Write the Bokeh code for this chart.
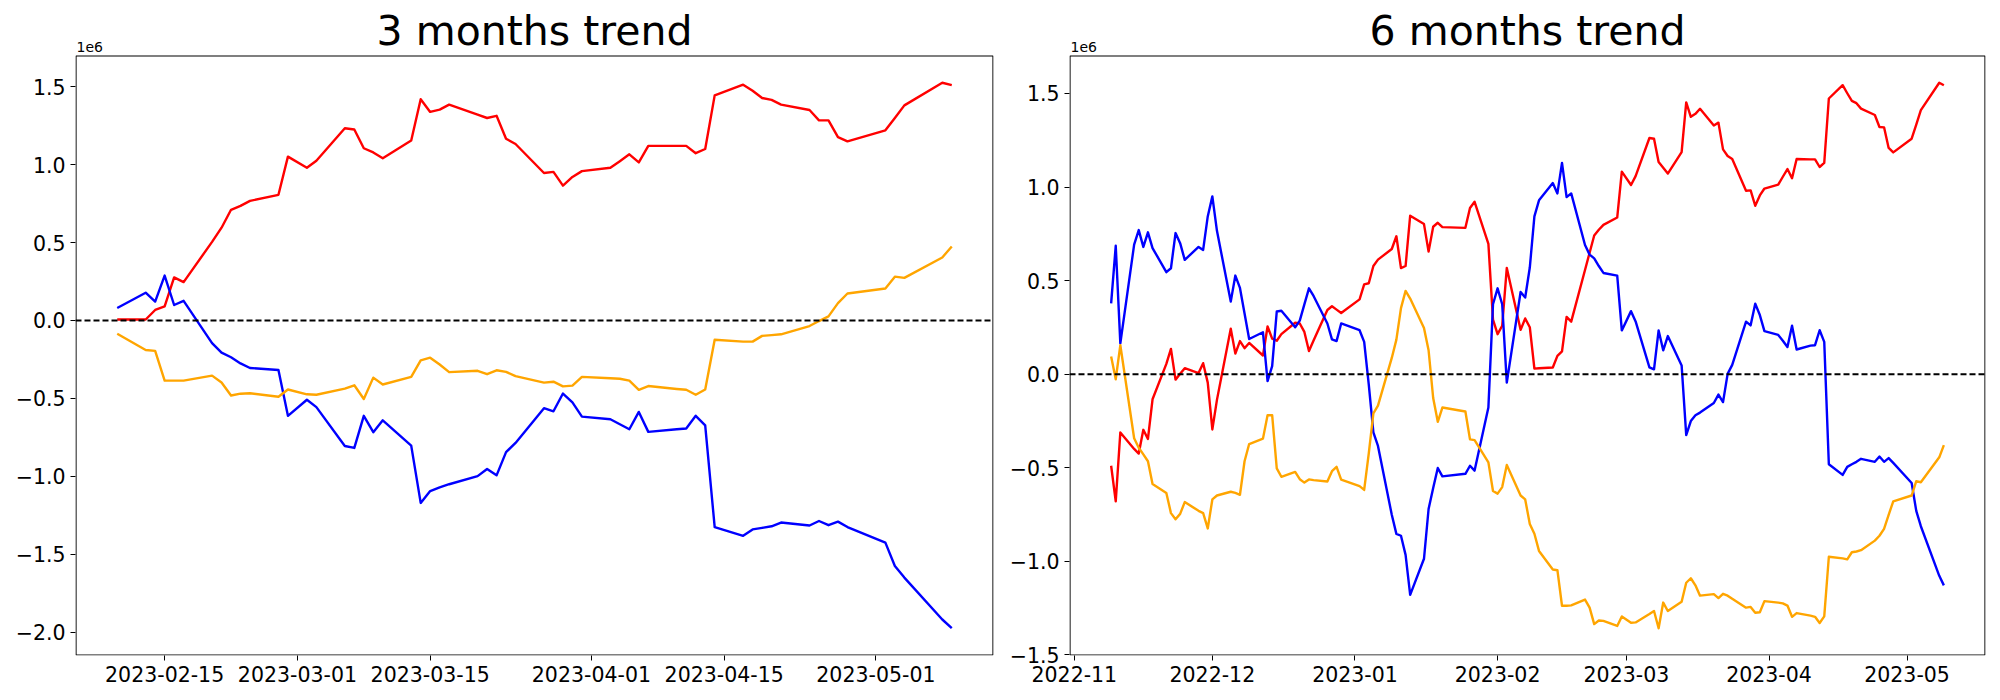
import pandas as pd
from bokeh.plotting import figure
from bokeh.layouts import row
from bokeh.models import Span, FixedTicker, CustomJSTickFormatter, Range1d, Label, BoxAnnotation
from bokeh.embed import file_html
from bokeh.resources import INLINE

# ---------------- data (values in millions, "1e6" offset) ----------------
dates_3m = [
    "2023-02-10", "2023-02-13", "2023-02-14", "2023-02-15", "2023-02-16", "2023-02-17",
    "2023-02-20", "2023-02-21", "2023-02-22", "2023-02-23", "2023-02-24", "2023-02-27", "2023-02-28",
    "2023-03-02", "2023-03-03", "2023-03-06", "2023-03-07", "2023-03-08", "2023-03-09", "2023-03-10",
    "2023-03-13", "2023-03-14", "2023-03-15", "2023-03-16", "2023-03-17", "2023-03-20", "2023-03-21",
    "2023-03-22", "2023-03-23", "2023-03-24", "2023-03-27", "2023-03-28", "2023-03-29", "2023-03-30",
    "2023-03-31", "2023-04-03", "2023-04-04", "2023-04-05", "2023-04-06", "2023-04-07", "2023-04-10",
    "2023-04-11", "2023-04-12", "2023-04-13", "2023-04-14", "2023-04-17", "2023-04-18", "2023-04-19",
    "2023-04-20", "2023-04-21", "2023-04-24", "2023-04-25", "2023-04-26", "2023-04-27", "2023-04-28",
    "2023-05-02", "2023-05-03", "2023-05-04", "2023-05-08", "2023-05-09",
]
red_3m = [
    0.006, 0.006, 0.067, 0.090, 0.276, 0.246,
    0.504, 0.595, 0.710, 0.735, 0.767, 0.806, 1.051,
    0.980, 1.025, 1.233, 1.225, 1.105, 1.078, 1.041,
    1.154, 1.419, 1.338, 1.353, 1.385, 1.320, 1.299,
    1.313, 1.166, 1.132, 0.946, 0.953, 0.865, 0.921,
    0.958, 0.980, 1.022, 1.066, 1.014, 1.120, 1.120,
    1.120, 1.073, 1.100, 1.444, 1.513, 1.474, 1.427,
    1.415, 1.385, 1.350, 1.284, 1.284, 1.176, 1.149,
    1.220, 1.299, 1.380, 1.525, 1.510,
]
blue_3m = [
    0.080, 0.178, 0.121, 0.288, 0.099, 0.126,
    -0.146, -0.207, -0.236, -0.276, -0.305, -0.318, -0.612,
    -0.509, -0.556, -0.806, -0.818, -0.612, -0.717, -0.641,
    -0.803, -1.171, -1.095, -1.071, -1.051, -0.999, -0.953,
    -0.994, -0.845, -0.786, -0.563, -0.583, -0.469, -0.526,
    -0.617, -0.634, -0.666, -0.698, -0.587, -0.715, -0.698,
    -0.693, -0.612, -0.673, -1.326, -1.382, -1.341, -1.331,
    -1.321, -1.297, -1.316, -1.287, -1.314, -1.291, -1.326,
    -1.426, -1.576, -1.650, -1.919, -1.975,
]
orange_3m = [
    -0.085, -0.190, -0.195, -0.386, -0.386, -0.386,
    -0.354, -0.398, -0.482, -0.470, -0.467, -0.490, -0.443,
    -0.474, -0.477, -0.438, -0.416, -0.504, -0.367, -0.411,
    -0.362, -0.256, -0.239, -0.283, -0.332, -0.323, -0.345,
    -0.320, -0.330, -0.357, -0.399, -0.393, -0.423, -0.418,
    -0.362, -0.371, -0.374, -0.386, -0.445, -0.421, -0.440,
    -0.445, -0.477, -0.443, -0.124, -0.136, -0.136, -0.099,
    -0.094, -0.089, -0.036, -0.004, 0.026, 0.111, 0.173,
    0.205, 0.281, 0.273, 0.404, 0.475,
]

dates_6m = [
    "2022-11-09", "2022-11-10", "2022-11-11", "2022-11-14", "2022-11-15", "2022-11-16", "2022-11-17",
    "2022-11-18", "2022-11-21", "2022-11-22", "2022-11-23", "2022-11-24", "2022-11-25", "2022-11-28",
    "2022-11-29", "2022-11-30",
    "2022-12-01", "2022-12-02", "2022-12-05", "2022-12-06", "2022-12-07", "2022-12-08", "2022-12-09",
    "2022-12-12", "2022-12-13", "2022-12-14", "2022-12-15", "2022-12-16", "2022-12-19", "2022-12-20",
    "2022-12-21", "2022-12-22", "2022-12-23", "2022-12-26", "2022-12-27", "2022-12-28", "2022-12-29",
    "2023-01-02", "2023-01-03", "2023-01-04", "2023-01-05", "2023-01-06", "2023-01-09", "2023-01-10",
    "2023-01-11", "2023-01-12", "2023-01-13", "2023-01-16", "2023-01-17", "2023-01-18", "2023-01-19",
    "2023-01-20", "2023-01-25", "2023-01-26", "2023-01-27", "2023-01-30", "2023-01-31",
    "2023-02-01", "2023-02-02", "2023-02-03", "2023-02-06", "2023-02-07", "2023-02-08", "2023-02-09",
    "2023-02-10", "2023-02-13", "2023-02-14", "2023-02-15", "2023-02-16", "2023-02-17", "2023-02-20",
    "2023-02-21", "2023-02-22", "2023-02-23", "2023-02-24", "2023-02-27", "2023-02-28",
    "2023-03-02", "2023-03-03", "2023-03-06", "2023-03-07", "2023-03-08", "2023-03-09", "2023-03-10",
    "2023-03-13", "2023-03-14", "2023-03-15", "2023-03-16", "2023-03-17", "2023-03-20", "2023-03-21",
    "2023-03-22", "2023-03-23", "2023-03-24", "2023-03-27", "2023-03-28", "2023-03-29", "2023-03-30",
    "2023-03-31",
    "2023-04-03", "2023-04-04", "2023-04-05", "2023-04-06", "2023-04-07", "2023-04-10", "2023-04-11",
    "2023-04-12", "2023-04-13", "2023-04-14", "2023-04-17", "2023-04-18", "2023-04-19", "2023-04-20",
    "2023-04-21", "2023-04-24", "2023-04-25", "2023-04-26", "2023-04-27", "2023-04-28",
    "2023-05-02", "2023-05-03", "2023-05-04", "2023-05-08", "2023-05-09",
]
red_6m = [
    -0.489, -0.679, -0.311, -0.399, -0.424, -0.297, -0.346,
    -0.134, 0.055, 0.135, -0.029, 0.002, 0.032, 0.006,
    0.059, -0.045,
    -0.295, -0.137, 0.243, 0.110, 0.177, 0.139, 0.167,
    0.100, 0.255, 0.190, 0.179, 0.214, 0.275, 0.271,
    0.226, 0.124, 0.180, 0.343, 0.363, 0.345, 0.327,
    0.400, 0.480, 0.486, 0.578, 0.612, 0.669, 0.737,
    0.567, 0.578, 0.847, 0.802, 0.655, 0.788, 0.809,
    0.786, 0.782, 0.888, 0.921, 0.696, 0.292,
    0.214, 0.259, 0.568, 0.237, 0.298, 0.251, 0.030,
    0.032, 0.036, 0.098, 0.122, 0.306, 0.281, 0.557,
    0.649, 0.741, 0.772, 0.798, 0.837, 1.082,
    1.011, 1.058, 1.262, 1.258, 1.134, 1.103, 1.072,
    1.187, 1.452, 1.375, 1.391, 1.418, 1.329, 1.344,
    1.201, 1.166, 1.150, 0.980, 0.982, 0.900, 0.955,
    0.992,
    1.013, 1.055, 1.096, 1.047, 1.150, 1.148, 1.148,
    1.107, 1.129, 1.473, 1.544, 1.501, 1.460, 1.448,
    1.419, 1.385, 1.321, 1.319, 1.209, 1.185,
    1.258, 1.334, 1.411, 1.557, 1.544,
]
blue_6m = [
    0.378, 0.686, 0.165, 0.692, 0.770, 0.680, 0.758,
    0.674, 0.545, 0.566, 0.754, 0.700, 0.611, 0.680,
    0.664, 0.843,
    0.950, 0.766, 0.388, 0.527, 0.461, 0.324, 0.188,
    0.224, -0.037, 0.043, 0.335, 0.339, 0.251, 0.286,
    0.373, 0.459, 0.418, 0.271, 0.186, 0.177, 0.271,
    0.235, 0.173, -0.056, -0.311, -0.383, -0.751, -0.853,
    -0.863, -0.965, -1.179, -0.986, -0.720, -0.608, -0.501,
    -0.546, -0.532, -0.489, -0.515, -0.178, 0.374,
    0.459, 0.374, -0.045, 0.439, 0.410, 0.570, 0.843,
    0.929, 1.021, 0.966, 1.129, 0.946, 0.966, 0.690,
    0.639, 0.619, 0.578, 0.541, 0.527, 0.234,
    0.337, 0.282, 0.037, 0.026, 0.234, 0.128, 0.204,
    0.047, -0.325, -0.250, -0.219, -0.205, -0.154, -0.109,
    -0.149, 0.002, 0.050, 0.281, 0.261, 0.377, 0.316,
    0.230,
    0.210, 0.179, 0.145, 0.259, 0.132, 0.153, 0.155,
    0.235, 0.173, -0.481, -0.538, -0.495, -0.481, -0.468,
    -0.452, -0.468, -0.440, -0.468, -0.448, -0.474,
    -0.581, -0.730, -0.812, -1.077, -1.128,
]
orange_6m = [
    0.095, -0.027, 0.155, -0.342, -0.393, -0.428, -0.465,
    -0.587, -0.634, -0.742, -0.775, -0.746, -0.683, -0.730,
    -0.742, -0.824,
    -0.669, -0.648, -0.628, -0.634, -0.644, -0.465, -0.373,
    -0.344, -0.219, -0.219, -0.503, -0.548, -0.522, -0.561,
    -0.579, -0.562, -0.566, -0.573, -0.518, -0.495, -0.563,
    -0.598, -0.618, -0.423, -0.209, -0.168, 0.087, 0.185,
    0.353, 0.445, 0.404, 0.247, 0.128, -0.127, -0.254,
    -0.178, -0.199, -0.348, -0.352, -0.471, -0.624,
    -0.638, -0.603, -0.485, -0.648, -0.669, -0.800, -0.852,
    -0.944, -1.043, -1.047, -1.237, -1.237, -1.235, -1.204,
    -1.247, -1.335, -1.316, -1.318, -1.345, -1.294,
    -1.328, -1.326, -1.281, -1.265, -1.357, -1.220, -1.265,
    -1.216, -1.114, -1.090, -1.128, -1.183, -1.175, -1.196,
    -1.173, -1.183, -1.200, -1.247, -1.243, -1.274, -1.272,
    -1.212,
    -1.220, -1.224, -1.236, -1.296, -1.276, -1.290, -1.296,
    -1.329, -1.294, -0.975, -0.984, -0.989, -0.951, -0.947,
    -0.940, -0.889, -0.863, -0.826, -0.751, -0.679,
    -0.648, -0.571, -0.577, -0.444, -0.379,
]

xticks_3m = ["2023-02-15", "2023-03-01", "2023-03-15", "2023-04-01", "2023-04-15", "2023-05-01"]
xticks_6m = ["2022-11-01", "2022-12-01", "2023-01-01", "2023-02-01", "2023-03-01", "2023-04-01", "2023-05-01"]
yticks_3m = [-2.0, -1.5, -1.0, -0.5, 0.0, 0.5, 1.0, 1.5]
yticks_6m = [-1.5, -1.0, -0.5, 0.0, 0.5, 1.0, 1.5]

FONT = "DejaVu Sans"
TICK_SIZE = "20.5px"
BOX_TOP = 55      # screen row of the axes box top
BOX_H = 600       # axes box height in px
FRAME_H = BOX_TOP + BOX_H


def make_panel(title, dates, reds, blues, oranges, xticks, date_fmt, yticks,
               border_left, frame_w, border_right):
    x = pd.to_datetime(pd.Series(dates))
    lo = min(min(reds), min(blues), min(oranges))
    hi = max(max(reds), max(blues), max(oranges))
    ypad = 0.05 * (hi - lo)
    ymin, ymax = lo - ypad, hi + ypad
    upp = (ymax - ymin) / BOX_H            # data units per pixel (y)
    ytop = ymax + BOX_TOP * upp            # frame extends above the box for title
    xpad = (x.iloc[-1] - x.iloc[0]) * 0.05
    xs = (x.iloc[0] - xpad).value / 1e6
    xe = (x.iloc[-1] + xpad).value / 1e6
    xupp = (xe - xs) / frame_w

    p = figure(
        x_axis_type="datetime",
        frame_width=frame_w, frame_height=FRAME_H,
        min_border_left=border_left, min_border_right=border_right,
        min_border_top=0, min_border_bottom=36,
        x_range=Range1d(xs, xe),
        y_range=Range1d(ymin, ytop),
        output_backend="svg", toolbar_location=None, title=None,
    )
    p.background_fill_color = "white"
    p.border_fill_color = "white"
    p.outline_line_color = None
    p.xgrid.visible = False
    p.ygrid.visible = False

    for color, vals in (("red", reds), ("blue", blues), ("orange", oranges)):
        p.line(x, vals, line_color=color, line_width=2.4, line_join="round")

    p.add_layout(Span(location=0, dimension="width", line_color="black",
                      line_dash="6 3", line_width=2))

    # axes box (spines)
    p.add_layout(BoxAnnotation(left=xs + 0.5 * xupp, right=xe - 0.5 * xupp,
                               bottom=ymin + 0.5 * upp, top=ymax - 0.5 * upp,
                               fill_alpha=0, line_color="black", line_width=1.2,
                               line_alpha=1.0))

    for ax in (p.xaxis[0], p.yaxis[0]):
        ax.major_label_text_font = FONT
        ax.major_label_text_font_size = TICK_SIZE
        ax.major_label_text_color = "black"
        ax.major_tick_in = 0
        ax.major_tick_out = 5
        ax.major_tick_line_color = "black"
        ax.major_tick_line_width = 1
        ax.minor_tick_line_color = None
        ax.axis_line_color = None
        ax.major_label_standoff = 5

    p.xaxis.ticker = FixedTicker(ticks=[pd.Timestamp(t).value / 1e6 for t in xticks])
    p.xaxis.formatter = CustomJSTickFormatter(args=dict(fmt=date_fmt), code="""
        const d = new Date(tick);
        const y = d.getUTCFullYear();
        const m = String(d.getUTCMonth() + 1).padStart(2, '0');
        const dd = String(d.getUTCDate()).padStart(2, '0');
        return fmt == 'ymd' ? `${y}-${m}-${dd}` : `${y}-${m}`;
    """)
    p.yaxis.ticker = FixedTicker(ticks=yticks)
    p.yaxis.formatter = CustomJSTickFormatter(
        code="return tick.toFixed(1).replace('-', '\u2212');")

    # text baselines corrected for the renderer's baseline offset (~0.4 em)
    p.add_layout(Label(x=(xs + xe) / 2, y=ymax + (8 + 16.5) * upp,
                       text=title, text_font=FONT, text_font_size="41px",
                       text_color="black", text_align="center", text_baseline="alphabetic"))
    p.add_layout(Label(x=xs + 1 * xupp, y=ymax + (3 + 5.8) * upp,
                       text="1e6", text_font=FONT, text_font_size="14px",
                       text_color="black", text_align="left", text_baseline="alphabetic"))
    return p


p1 = make_panel("3 months trend", dates_3m, red_3m, blue_3m, orange_3m,
                xticks_3m, "ymd", yticks_3m, 75, 918, 10)
p2 = make_panel("6 months trend", dates_6m, red_6m, blue_6m, orange_6m,
                xticks_6m, "ym", yticks_6m, 66, 916, 10)

layout = row(p1, p2)
open("out.html", "w").write(file_html(layout, INLINE))
